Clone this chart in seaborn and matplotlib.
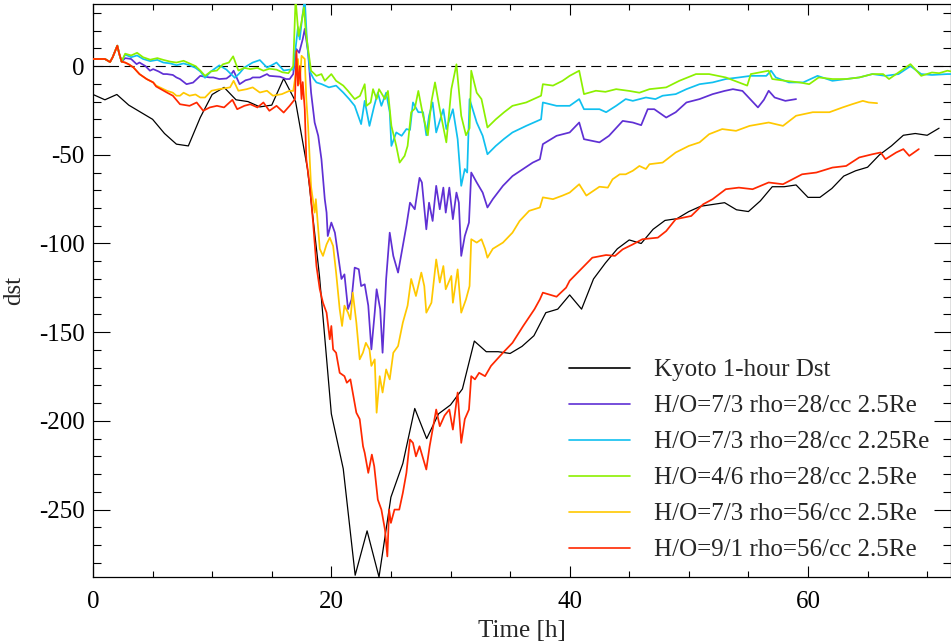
import numpy as np
import pandas as pd
import matplotlib
matplotlib.use("Agg")
import matplotlib.pyplot as plt
from matplotlib.ticker import MultipleLocator
import seaborn as sns

# ---------------- data ----------------
kyoto_t = list(range(0, 72))
kyoto_v = [-16, -19, -16, -22, -26, -30, -38, -44, -45, -29, -16, -12, -19, -20, -23, -22,
           -7, -20, -58, -118, -196, -227, -287, -262, -288, -243, -224, -193, -210, -196,
           -191, -182, -155, -161, -161, -162, -158, -152, -139, -137, -129, -137, -120,
           -111, -103, -98, -100, -92, -87, -86, -82, -79, -78, -77, -81, -82, -76, -68,
           -68, -67, -74, -74, -69, -62, -59, -57, -50, -45, -39, -38, -39, -35]

start_t = [0.0, 0.5, 1.0, 1.43, 1.65, 2.04, 2.2, 2.4]
start_v = [4, 4, 4, 2.3, 5, 11.5, 7, 2.5]

purple_t = start_t + [2.7, 3.2, 3.66, 3.9, 4.4, 4.78, 5.05, 5.5, 5.9, 6.2, 6.7, 7.0, 7.3, 7.85, 8.4, 9.0,
            9.4, 9.8, 10.1, 10.6, 11.2, 11.5, 11.8, 12.3, 12.8, 13.2, 13.4, 14.0, 14.6, 14.8,
            15.7, 16.2, 16.5, 16.8, 17.07, 17.3, 17.6, 17.77, 18.05, 18.3, 18.6, 18.9, 19.17,
            19.45, 19.6, 19.7, 20.0, 20.3, 20.85, 21.1, 21.4, 21.7, 21.96, 22.3, 22.5, 22.8,
            23.1, 23.36, 23.64, 23.8, 24.1, 24.3, 24.6, 24.9, 25.2, 25.6, 26.0, 26.3, 26.6,
            27.0, 27.4, 27.6, 27.97, 28.2, 28.5, 28.8, 29.1, 29.4, 29.6, 29.9, 30.2, 30.5,
            30.7, 30.9, 31.2, 31.55, 31.74, 32.2, 32.7, 33.1, 33.55, 34.4, 35.2, 36.1, 36.9,
            37.5, 37.75, 38.9, 40.0, 40.8, 41.2, 42.5, 43.3, 44.45, 45.3, 46.0, 46.55, 47.1,
            48.1, 48.9, 49.8, 50.9, 52.0, 53.0, 53.7, 54.5, 55.2, 55.8, 56.3, 56.7, 57.2,
            58.1, 59.0]
purple_v = start_v + [4.5, 4, 1.1, 2, 0, -2.6, -1.7, -3, -4.5, -4.5, -5, -6.4, -7.3, -10.2, -9.3, -5.5,
            -6, -6.4, -6.4, -7.3, -7, -5.5, -2.6, -10.2, -8, -7.3, -6.4, -6.4, -4.5, -5.5,
            -6, -7.3, -7.3, -4.5, 9.6, 7.5, 15.2, 21, 7.7, -14.9, -31.8, -39.3, -52.5,
            -75, -82.6, -95.8, -88.2, -93.9, -120, -117.4, -137, -131.5, -113.6, -114.5, -124, -123,
            -135, -159.7, -139, -125.8, -137, -161.6, -120, -93.9, -107, -116.4, -101.4, -90, -77,
            -80.7, -63, -65.6, -92, -77, -87.3, -67.5, -80.7, -68.5, -82.6, -68.5, -86.3, -71.3,
            -77, -107, -95.8, -88.2, -60, -65.6, -71.3, -79.7, -75, -67.5, -62, -58, -54.4,
            -52.5, -44, -39.3, -37.4, -31.8, -41.2, -43, -39.3, -30.9, -31.8, -33.3, -24.3, -24.3,
            -29, -26, -20.5, -18.6, -15.8, -14, -13, -14, -19, -23.3, -19, -13.9, -17.7,
            -19.6, -18.6]

cyan_t = start_t + [2.7, 3.2, 3.7, 4.2, 4.8, 5.4, 5.9, 6.5, 7.0, 7.6, 8.1, 8.6, 9.0, 9.4, 9.9, 10.6,
          11.2, 11.5, 11.9, 12.3, 12.7, 13.4, 14.0, 14.6, 15.0, 15.4, 16.0, 16.5, 16.8, 17.0,
          17.2, 17.35, 17.55, 17.77, 17.95, 18.2, 18.5, 18.75, 19.2, 19.8, 20.4, 21.0, 21.5,
          21.96, 22.2, 22.5, 22.8, 23.2, 23.6, 23.9, 24.2, 24.6, 24.9, 25.04, 25.45, 25.9,
          26.3, 26.6, 26.85, 27.3, 27.7, 27.97, 28.2, 28.5, 28.8, 29.4, 29.65, 30.2, 30.6,
          30.9, 31.2, 31.4, 31.6, 32.2, 32.7, 33.1, 33.8, 34.5, 35.2, 36.35, 37.6, 37.75,
          38.9, 40.0, 40.8, 41.2, 42.5, 43.06, 43.9, 44.7, 45.3, 46.4, 47.2, 47.8, 48.9,
          49.8, 50.9, 52.0, 53.1, 54.2, 55.2, 56.5, 56.9, 57.3, 58.4, 59.6, 60.8, 62.05,
          63.2, 64.3, 65.4, 66.5, 67.6, 68.6, 69.5, 70.4, 71.7, 72.0]
cyan_v = start_v + [6.5, 5, 6, 4, 2.8, 3.5, 2, 1.5, 0.5, 1.5, 0.5, -1, -3, -6.6, -3, 0.4,
          -2, -4, -6.6, -4, -0.8, 2, 3.4, -0.8, 0.5, 2, -2.5, -2, -2, 10,
          22, 15, 27, 38, 15, -3, -7, -9.2, -10.2, -12, -11, -14.9, -18.6,
          -22.4, -27, -32.7, -19.6, -33.7, -22.4, -15, -22.4, -15, -26, -45, -37.4, -39.3,
          -35.5, -36, -20.5, -26, -26, -39, -28, -20.5, -37.4, -24.3, -35.5, -24.3, -41.2,
          -67.5, -58, -60, -18.6, -31.8, -39.3, -49.7, -45, -41, -37.4, -33.7, -30, -20.5,
          -22.4, -22.4, -18.6, -24.3, -24.3, -26, -22.4, -18.6, -19.6, -17.7, -18.6, -16.7, -15.8,
          -13, -10.2, -9.2, -7.3, -6.4, -5.5, -5.5, -2.6, -6.4, -9.2, -9.2, -5.5, -8.3,
          -7.3, -6.4, -4.5, -5.5, -4.5, 0, -4.5, -5, -4.5, -4.5]

green_t = start_t + [2.7, 3.2, 3.7, 4.2, 4.8, 5.4, 5.9, 6.5, 7.0, 7.6, 8.1, 8.6, 9.0, 9.4, 9.9, 10.4,
           10.9, 11.4, 11.76, 12.2, 12.7, 13.2, 13.8, 14.3, 14.8, 15.4, 15.9, 16.4, 16.8, 17.0,
           17.25, 17.5, 17.7, 17.85, 18.05, 18.3, 18.75, 19.17, 19.45, 20.0, 20.4, 21.0, 21.4,
           21.96, 22.4, 22.8, 22.95, 23.3, 23.5, 23.8, 24.0, 24.5, 24.75, 25.04, 25.45, 25.73,
           26.15, 26.4, 26.7, 27.0, 27.3, 27.7, 28.1, 28.4, 28.7, 29.1, 29.65, 30.07, 30.5,
           30.9, 31.3, 31.6, 31.74, 32.2, 32.6, 33.1, 33.8, 34.5, 35.2, 36.35, 37.6, 37.75,
           38.6, 39.4, 40.0, 40.8, 41.2, 42.2, 43.0, 43.9, 45.0, 45.85, 46.7, 48.1, 49.2,
           50.6, 51.7, 53.1, 54.2, 54.9, 55.2, 56.0, 56.7, 57.0, 58.1, 59.3, 60.1, 60.9,
           62.05, 63.2, 64.3, 65.4, 66.3, 66.8, 67.6, 68.6, 69.5, 70.4, 71.0, 71.7, 72.0]
green_v = start_v + [7, 6, 7.5, 5, 3.6, 4.5, 3.5, 2.5, 2, 3, 1.5, 0, -2.5, -5.5, -3, -2.5,
           1, 2, 5.5, -2.5, -1, -1.7, -1, -2.6, -1.5, -2, -3.5, -4, 0, 38,
           17, 25, 33, 20, 9.6, -2.6, -5.5, -4.5, -8.3, -4.5, -8.3, -11, -14,
           -18.6, -16.8, -10.2, -22.4, -20.5, -13, -18.6, -13, -18.6, -14, -33.7, -45, -54.4,
           -50.6, -45, -26, -24, -14, -28, -39, -20, -9.2, -24.3, -43, -13, 1,
           -28, -39, -35, -2.6, -15, -18.6, -34.6, -30, -26, -22.4, -20.5, -16.7, -10.2,
           -11, -8.3, -5.5, -2.6, -15.8, -13.9, -14.5, -13, -14, -15, -13, -12, -8.3,
           -4.5, -4.5, -6.4, -9.2, -11, -4.5, -3.5, -2.6, -7.3, -8.3, -9.2, -10.2, -6.4,
           -7.3, -7.3, -6.4, -4.5, -4.5, -7.3, -3.6, 1.1, -5.5, -3.6, -4, -2.6, -3]

yellow_t = start_t + [2.7, 3.0, 3.4, 3.9, 4.5, 5.05, 5.3, 6.2, 6.7, 7.0, 7.3, 7.6, 8.1, 8.6, 9.0, 9.4,
            9.95, 10.6, 11.5, 11.8, 12.2, 12.9, 13.4, 14.0, 14.6, 15.1, 15.85, 16.5, 16.8, 17.2,
            17.35, 17.5, 17.77, 17.9, 18.05, 18.3, 18.6, 18.7, 19.03, 19.3, 19.6, 19.87, 20.15,
            20.4, 20.7, 20.9, 21.1, 21.4, 21.6, 21.8, 22.1, 22.38, 22.65, 22.9, 23.2, 23.36,
            23.64, 23.8, 24.06, 24.3, 24.6, 24.9, 25.2, 25.6, 26.0, 26.4, 26.7, 27.1, 27.55,
            27.8, 27.97, 28.4, 28.8, 29.1, 29.4, 29.6, 30.07, 30.2, 30.6, 30.9, 31.3, 31.6,
            31.74, 32.2, 32.6, 32.9, 33.1, 33.55, 34.4, 35.2, 35.8, 36.6, 37.5, 37.75, 38.6,
            39.4, 40.0, 40.8, 41.4, 42.5, 43.2, 43.6, 44.2, 44.7, 45.3, 45.85, 46.4, 46.7,
            47.8, 48.9, 50.0, 50.9, 51.7, 52.8, 53.96, 55.1, 56.7, 57.9, 59.0, 60.4, 61.8,
            62.9, 63.7, 64.6, 65.1, 65.8]
yellow_v = start_v + [2, 1, -0.8, -4.5, -7.3, -9.2, -11, -13.9, -15, -16.7, -16.7, -15, -16.7, -16, -17.7, -17.7,
            -13.9, -13, -12, -8.3, -13.9, -13, -12, -14.9, -13.9, -16.7, -15.8, -13.9, -14, 4,
            -10, 5.8, 4, -18.6, -33.7, -68, -82.6, -75, -103, -107, -100.5, -96.7, -101.4,
            -116.4, -137, -146.5, -135, -139, -142.8, -127.7, -144.6, -165.3, -161.6, -156, -159.7, -169,
            -165.3, -195.4, -174.8, -184, -171, -176.6, -161.6, -157.8, -144.6, -135, -120, -129.6, -116.4,
            -124, -139, -133.4, -109, -122, -112.7, -125.8, -118.3, -133.4, -114.6, -139, -131.5, -124,
            -97.6, -99.5, -97.6, -103, -108, -103, -99.5, -93.9, -87.3, -81.6, -79.7, -74, -75,
            -73, -71.3, -66.6, -73, -68, -68.5, -63.8, -61, -61, -59, -56.3, -58, -55.3,
            -54.4, -48.7, -45, -43, -38.4, -35.5, -36.5, -33.7, -31.8, -33.7, -28, -26, -26,
            -23.3, -21.5, -19.6, -20.5, -20.9]

red_t = start_t + [2.7, 3.0, 3.4, 3.9, 4.5, 5.05, 5.3, 6.2, 6.7, 7.3, 8.1, 8.7, 9.25, 9.8, 10.4, 11.0,
         11.7, 12.1, 12.7, 13.2, 13.8, 14.3, 14.8, 15.4, 16.0, 16.5, 16.95, 17.07, 17.2, 17.35,
         17.5, 17.6, 17.77, 17.9, 18.2, 18.47, 18.75, 19.03, 19.3, 19.6, 19.87, 20.0, 20.15,
         20.4, 20.7, 21.1, 21.3, 21.6, 21.8, 22.1, 22.38, 22.66, 22.8, 23.1, 23.4, 23.6,
         23.9, 24.2, 24.5, 24.7, 24.85, 25.0, 25.3, 25.7, 26.0, 26.3, 26.6, 26.85, 27.1,
         27.4, 27.97, 28.25, 28.8, 29.1, 29.5, 29.9, 30.2, 30.6, 30.9, 31.2, 31.55, 31.74,
         32.05, 32.4, 32.9, 33.4, 34.4, 35.2, 36.1, 37.05, 37.5, 37.75, 38.9, 39.7, 40.0,
         40.8, 41.9, 43.06, 43.8, 44.45, 45.3, 46.1, 47.4, 48.1, 48.9, 50.2, 51.2, 52.0,
         53.1, 54.2, 55.35, 56.7, 57.9, 58.7, 59.5, 60.7, 62.05, 63.2, 64.3, 65.4, 66.1,
         66.5, 67.4, 68.0, 68.5, 69.3]
red_v = start_v + [2, 1, -0.8, -4.5, -7.3, -9.2, -11.5, -14.9, -16.7, -21.5, -22.4, -20.5, -25.2, -23.3, -22.4, -23.3,
         -19, -24.3, -22.4, -21.5, -23.3, -20.5, -25.2, -22.4, -26.2, -22.4, -18.6, 8.5, -11, 0,
         -18.6, -9, -24.3, -52.5, -68, -88.2, -112.7, -125.8, -133.4, -139, -154, -146.5, -159.7,
         -161.6, -172.9, -174.8, -178.5, -176.6, -184, -195.4, -199, -214.3, -218, -229.3, -219, -225.6,
         -244.4, -250, -261.3, -276.4, -250, -257.5, -250, -250, -240.6, -229.3, -210.5, -212.4, -220,
         -214.3, -227.4, -214.3, -193.6, -203, -197, -193.6, -204.9, -184, -212.4, -199, -193.6, -174.8,
         -176.6, -172.9, -174.8, -169, -161.6, -156, -146.5, -137, -131.5, -127.7, -130, -124.9, -121,
         -115.5, -108, -106.5, -107, -103.3, -100.5, -97.6, -96.7, -93, -86.3, -84.5, -77.9, -75,
         -69.4, -68.5, -69.4, -65.6, -66.6, -63.8, -61, -60, -57.2, -56.3, -51.5, -49.7, -48.7,
         -52.5, -48.7, -46.8, -50.6, -46.8]

labels = ["Kyoto 1-hour Dst",
          "H/O=7/3 rho=28/cc 2.5Re",
          "H/O=7/3 rho=28/cc 2.25Re",
          "H/O=4/6 rho=28/cc 2.5Re",
          "H/O=7/3 rho=56/cc 2.5Re",
          "H/O=9/1 rho=56/cc 2.5Re"]
colors = ["#000000", "#5f30d4", "#10c0f0", "#8cf000", "#ffc800", "#ff2800"]

x_ticks = [0, 20, 40, 60]
y_ticks = [0, -50, -100, -150, -200, -250]

# ---------------- plotting ----------------
sns.set_style("ticks")
plt.rcParams["font.family"] = ["Liberation Serif", "DejaVu Serif"]
plt.rcParams["axes.unicode_minus"] = False

fig = plt.figure(figsize=(9.51, 6.41), dpi=100)
ax = fig.add_axes([93 / 951, 64 / 641, 858 / 951, 573 / 641])

ax.axhline(0, color="black", lw=0.8, ls=(0, (9, 5)), zorder=1)

series = [(kyoto_t, kyoto_v), (purple_t, purple_v), (cyan_t, cyan_v),
          (green_t, green_v), (yellow_t, yellow_v), (red_t, red_v)]
for i, ((t, v), lab, col) in enumerate(zip(series, labels, colors)):
    df = pd.DataFrame({"t": t, "v": v})
    sns.lineplot(data=df, x="t", y="v", ax=ax, color=col, label=lab,
                 lw=0.9 if i == 0 else 1.25, estimator=None, sort=False, zorder=2 + i)

ax.set_xlim(0, 72)
ax.set_ylim(-288, 35)
ax.set_xticks(x_ticks)
ax.set_yticks(y_ticks)
ax.xaxis.set_minor_locator(MultipleLocator(5))
ax.yaxis.set_minor_locator(MultipleLocator(10))
ax.tick_params(axis="both", which="both", direction="in", top=True, right=True,
               colors="black", width=0.8, labelsize=18)
ax.tick_params(axis="x", which="major", length=8, pad=10)
ax.tick_params(axis="x", which="minor", length=4)
ax.tick_params(axis="y", which="major", length=12, pad=6)
ax.tick_params(axis="y", which="minor", length=6)
for s in ax.spines.values():
    s.set_visible(True)
    s.set_linewidth(0.9)
    s.set_color("black")

ax.set_xlabel("Time [h]", fontsize=18, labelpad=5)
ax.set_ylabel("dst", fontsize=18, labelpad=10)

leg = ax.legend(loc="upper left", bbox_to_anchor=(0.543, 0.398), frameon=False,
                fontsize=18, handlelength=2.45, handletextpad=0.95,
                labelspacing=0.54, borderaxespad=0.0)
for line in leg.get_lines():
    line.set_linewidth(1.2)

fig.savefig("out.png", dpi=100)
